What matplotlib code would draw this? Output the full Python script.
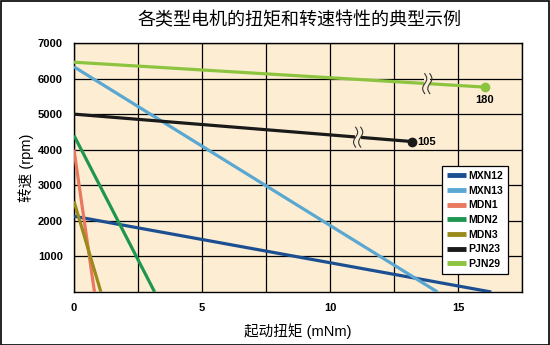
import numpy as np
from matplotlib import pyplot as plt
from matplotlib.patches import Rectangle

plt.rcParams['font.family'] = ['Liberation Sans', 'Noto Sans CJK SC', 'DejaVu Sans']

# torque (mNm) / speed (rpm) endpoints of each motor curve
names = ['MXN12', 'MXN13', 'MDN1', 'MDN2', 'MDN3', 'PJN23', 'PJN29']
torque = [[0, 16.3], [0, 14.2], [0, 0.8], [0, 3.15], [0, 1.05], [0, 13.2], [0, 16.05]]
speed = [[2130, 0], [6330, 0], [4000, 0], [4400, 0], [2550, 0], [5000, 4230], [6460, 5760]]
colors = ['#1c4f91', '#5aa7d2', '#e8785e', '#1f9650', '#9a8a1c', '#1a1a1a', '#8dc43f']
end_labels = {'PJN23': '105', 'PJN29': '180'}
break_x = {'PJN23': 11.1, 'PJN29': 13.8}

xticks = [0, 5, 10, 15]
yticks = [1000, 2000, 3000, 4000, 5000, 6000, 7000]

bg = '#fdeed3'
fig = plt.figure(figsize=(5.5, 3.45), dpi=100)
ax = fig.add_axes([74/550, 1-292/345, 448/550, 249/345])
ax.set_facecolor(bg)

for name, tx, sp, c in zip(names, torque, speed, colors):
    ax.plot(tx, sp, color=c, lw=2.3, solid_capstyle='butt', label=name, zorder=3)
    if name in end_labels:
        ax.plot(tx[1], sp[1], 'o', color=c, ms=6, zorder=4)
        # break symbol: two small wavy strokes across the line
        bx = break_x[name]
        by = sp[0] + (sp[1] - sp[0]) * (bx - tx[0]) / (tx[1] - tx[0])
        t = np.linspace(-1, 1, 30)
        ax.fill_betweenx(by + t * 280, bx - 0.12, bx + 0.12, color=bg, zorder=5, lw=0)
        for off in (-0.1, 0.1):
            ax.plot(bx + off + 0.08 * np.sin(t * np.pi), by + t * 280, color='#333333', lw=0.8, zorder=6)
        if name == 'PJN29':
            ax.text(tx[1], sp[1] - 230, end_labels[name], ha='center', va='top', fontsize=8, weight='bold')
        else:
            ax.text(tx[1] + 0.2, sp[1], end_labels[name], ha='left', va='center', fontsize=8, weight='bold')

grid_x = np.arange(0, 17.6, 2.5)
ax.set_xlim(0, 17.5)
ax.set_ylim(0, 7000)
ax.set_xticks(grid_x)
ax.set_xticklabels([str(int(v)) if v in xticks else '' for v in grid_x])
ax.set_yticks(yticks)
ax.set_yticklabels([str(v) for v in yticks])
ax.tick_params(length=0, labelsize=8, pad=8)
for lab in ax.get_xticklabels() + ax.get_yticklabels():
    lab.set_fontweight('bold')
ax.grid(color='black', lw=0.9)
ax.set_axisbelow(True)
for s in ax.spines.values():
    s.set_linewidth(1.0)

ax.set_ylabel('转速 (rpm)', fontsize=10.5, labelpad=3)
ax.set_xlabel('起动扭矩 (mNm)', fontsize=10.5, labelpad=7)
fig.text(0.544, 0.939, '各类型电机的扭矩和转速特性的典型示例', ha='center', va='center', fontsize=13)

leg = ax.legend(loc='lower right', bbox_to_anchor=(0.98, 0.05), fontsize=7.5, frameon=True,
                fancybox=False, edgecolor='black', framealpha=1, handlelength=1.8,
                handletextpad=0.2, labelspacing=0.45, borderpad=0.5)
leg.get_frame().set_linewidth(0.9)
for h in leg.get_lines():
    h.set_linewidth(3.5)
for tx in leg.get_texts():
    tx.set_fontweight('bold')

fig.add_artist(Rectangle((0.001, 0.001), 0.997, 0.997, transform=fig.transFigure,
                         fill=False, edgecolor='black', lw=1.2))

fig.savefig('out.png', dpi=100)
